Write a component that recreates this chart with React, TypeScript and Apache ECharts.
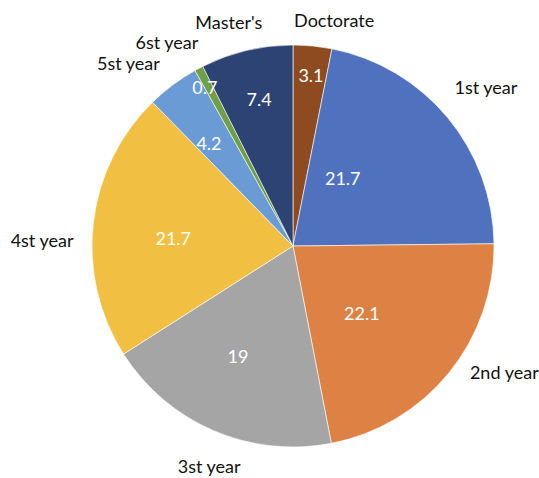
import React, { useEffect, useRef } from "react";
import * as echarts from "echarts";

const categories = ["Doctorate", "1st year", "2nd year", "3st year", "4st year", "5st year", "6st year", "Master's"];
const values = [3.1, 21.7, 22.1, 19, 21.7, 4.2, 0.7, 7.4];
const colors = ["#8E4B1F", "#4F71BE", "#DD8244", "#A5A5A5", "#F1BF42", "#6A9BD4", "#6F9F47", "#2C4374"];

// label placement (angle clockwise from top in degrees, distance from centre in px)
const insideLabelPolar = [[6.0, 172], [36.3, 84], [134.2, 96], [206.6, 123], [273.8, 120], [320.8, 133], [331, 182], [347, 151]];
const outsideLabelPolar = [[10.3, 230], [50.5, 250], [120.8, 246], [200.9, 235], [271.4, 251], [318, 246], [328.3, 240], [344, 233]];

const CENTER: [number, number] = [293, 246];
const RADIUS = 201;
const FONT = "Lato, 'Noto Sans', sans-serif";

function polarLayout(table: number[][]) {
  return (params: any) => {
    const [a, r] = table[params.dataIndex];
    const rad = (a * Math.PI) / 180;
    return {
      x: CENTER[0] + r * Math.sin(rad),
      y: CENTER[1] - r * Math.cos(rad),
      align: "center",
      verticalAlign: "middle",
    };
  };
}

export default function App() {
  const ref = useRef<HTMLDivElement>(null);
  useEffect(() => {
    if (!ref.current) return;
    const chart = echarts.init(ref.current, null, { renderer: "svg" });
    const data = categories.map((name, i) => ({ name, value: values[i] }));
    chart.setOption({
      animation: false,
      color: colors,
      series: [
        {
          type: "pie",
          center: CENTER,
          radius: [0, RADIUS],
          startAngle: 90,
          clockwise: true,
          data: data.map((d, i) => ({ ...d, itemStyle: { color: colors[i] } })),
          itemStyle: { borderColor: "#ffffff", borderWidth: 0.6 },
          label: {
            show: true,
            position: "inside",
            formatter: (p: any) => String(p.value),
            color: "#ffffff",
            fontFamily: FONT,
            fontSize: 18,
            overflow: "none",
          },
          labelLine: { show: false },
          labelLayout: polarLayout(insideLabelPolar),
          emphasis: { disabled: true },
        },
        {
          type: "pie",
          silent: true,
          center: CENTER,
          radius: [0, RADIUS],
          startAngle: 90,
          clockwise: true,
          data: data,
          itemStyle: { color: "rgba(0,0,0,0)" },
          label: {
            show: true,
            position: "outside",
            formatter: (p: any) => p.name,
            color: "#111111",
            fontFamily: FONT,
            fontSize: 18,
            overflow: "none",
            edgeDistance: 0,
          },
          labelLine: { show: false },
          labelLayout: polarLayout(outsideLabelPolar),
          emphasis: { disabled: true },
        },
      ],
    });
    return () => chart.dispose();
  }, []);
  return <div ref={ref} style={{ position: "absolute", left: 0, top: 0, width: 539, height: 478 }} />;
}
